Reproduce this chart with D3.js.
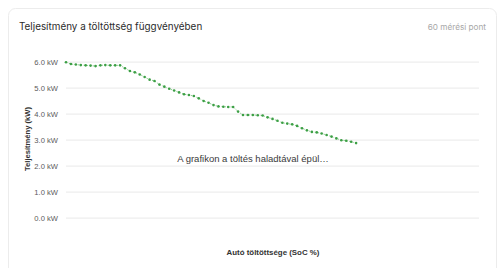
<!DOCTYPE html>
<html>
<head>
<meta charset="utf-8">
<script src="https://cdn.jsdelivr.net/npm/d3@7"></script>
<style>
  html, body { margin: 0; padding: 0; background: #fff; }
  svg { display: block; }
</style>
</head>
<body>
<div id="graph"></div>
<script>
// SoC (%) of each measurement, 60 points
var soc = [16, 17, 18, 19, 20, 21, 22, 23, 24, 25, 26, 27, 28, 29, 30, 31, 32, 33, 34, 35,
  36, 37, 38, 39, 40, 41, 42, 43, 44, 45, 46, 47, 48, 49, 50, 51, 52, 53, 54, 55,
  56, 57, 58, 59, 60, 61, 62, 63, 64, 65, 66, 67, 68, 69, 70, 71, 72, 73, 74, 75]

// charging power (kW)
var power = [5.98, 5.91, 5.89, 5.87, 5.86, 5.85, 5.83, 5.86, 5.87, 5.86,
  5.86, 5.86, 5.75, 5.64, 5.59, 5.51, 5.41, 5.31, 5.26, 5.12,
  5.04, 4.96, 4.89, 4.82, 4.75, 4.72, 4.68, 4.59, 4.49, 4.42,
  4.33, 4.28, 4.27, 4.26, 4.26, 4.08, 3.95, 3.95, 3.95, 3.94,
  3.93, 3.86, 3.80, 3.73, 3.65, 3.62, 3.59, 3.53, 3.44, 3.36,
  3.30, 3.28, 3.24, 3.18, 3.12, 3.05, 2.98, 2.96, 2.92, 2.87]

var yTicks = [0, 1, 2, 3, 4, 5, 6]
var socDomain = [16, 100]

var title = 'Teljesítmény a töltöttség függvényében'
var countLabel = soc.length + ' mérési pont'
var yTitle = 'Teljesítmény (kW)'
var xTitle = 'Autó töltöttsége (SoC %)'
var note = 'A grafikon a töltés haladtával épül…'

var data = soc.map((s, i) => ({soc: s, kw: power[i]}))

var W = 500, H = 268
var svg = d3.select('#graph').append('svg')
  .attr('width', W).attr('height', H)

// card
svg.append('rect')
  .attr('x', 8.5).attr('y', 8.5)
  .attr('width', 488).attr('height', 280)
  .attr('rx', 7)
  .attr('fill', '#fff')
  .attr('stroke', '#ececec')

svg.append('text')
  .attr('x', 19).attr('y', 30)
  .attr('font-family', 'Inter, sans-serif')
  .attr('font-size', 9.9)
  .attr('fill', '#2b2b2b')
  .text(title)

svg.append('text')
  .attr('x', 486).attr('y', 30)
  .attr('text-anchor', 'end')
  .attr('font-family', 'Inter, sans-serif')
  .attr('font-size', 8.2)
  .attr('fill', '#a8a8a8')
  .text(countLabel)

var x = d3.scaleLinear().domain(socDomain).range([66, 479])
var y = d3.scaleLinear().domain([0, 6]).range([217.7, 61.7])

var font = '"Liberation Sans", Arial, sans-serif'

// y grid + labels
var yAxis = svg.append('g')
  .attr('transform', 'translate(66,0)')
  .call(d3.axisLeft(y).tickValues(yTicks)
    .tickSize(-(x.range()[1] - x.range()[0]))
    .tickPadding(8)
    .tickFormat(d => d3.format('.1f')(d) + ' kW'))
yAxis.select('.domain').remove()
yAxis.selectAll('.tick line').attr('stroke', '#eeeeee').attr('stroke-width', 1.2)
yAxis.selectAll('.tick text')
  .attr('font-family', font).attr('font-size', 7.6).attr('fill', '#5a5a5a')

svg.append('text')
  .attr('transform', 'translate(30,139) rotate(-90)')
  .attr('text-anchor', 'middle')
  .attr('font-family', font)
  .attr('font-size', 7.6)
  .attr('font-weight', 'bold')
  .attr('fill', '#333')
  .text(yTitle)

svg.append('text')
  .attr('x', 273).attr('y', 255)
  .attr('text-anchor', 'middle')
  .attr('font-family', font)
  .attr('font-size', 7.9)
  .attr('font-weight', 'bold')
  .attr('fill', '#333')
  .text(xTitle)

// the series
var line = d3.line().x(d => x(d.soc)).y(d => y(d.kw))
svg.append('path')
  .datum(data)
  .attr('d', line)
  .attr('fill', 'none')
  .attr('stroke', '#8fcf92')
  .attr('stroke-width', 1)
  .attr('stroke-dasharray', '1.5 1.5')

svg.selectAll('circle.pt').data(data).join('circle')
  .attr('class', 'pt')
  .attr('cx', d => x(d.soc))
  .attr('cy', d => y(d.kw))
  .attr('r', 1.3)
  .attr('fill', '#3c9f45')

svg.append('text')
  .attr('x', 253).attr('y', 162)
  .attr('text-anchor', 'middle')
  .attr('font-family', font)
  .attr('font-size', 9.5)
  .attr('fill', '#3a3a3a')
  .text(note)
</script>
</body>
</html>
